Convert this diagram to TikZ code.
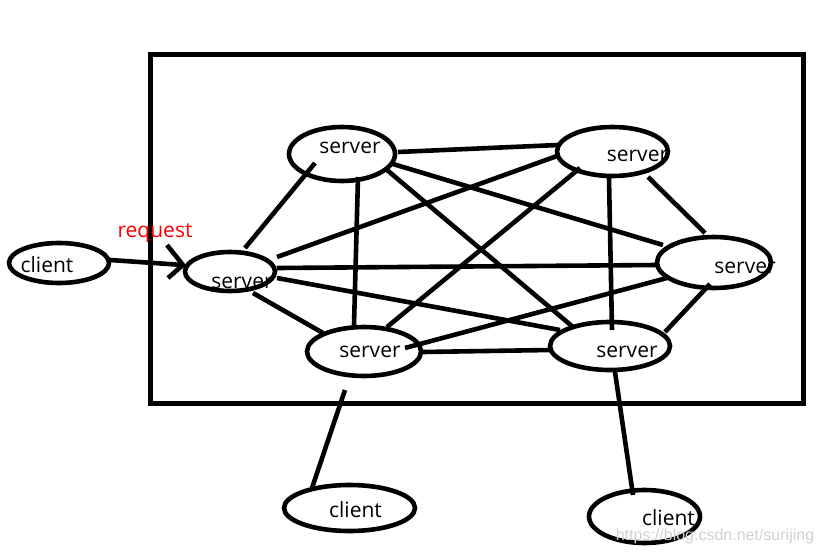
\documentclass[tikz,border=0pt]{standalone}
\usepackage{fontspec}
\setmainfont{Open Sans}
\newfontfamily\wmfont{Liberation Sans}
\usetikzlibrary{shapes.geometric}
\begin{document}
\begin{tikzpicture}[x=1pt,y=-1pt,
  oval/.style n args={2}{draw,ellipse,line width=4.6pt,inner sep=0pt,outer sep=0pt,minimum width=#1,minimum height=#2},
  edge/.style={line width=4.6pt},
  lbl/.style={anchor=base,inner sep=0pt,font=\fontsize{21}{24}\selectfont},
  req/.style={lbl,text=red},
  wm/.style={anchor=base,inner sep=0pt,text=black!18,font=\wmfont\fontsize{16}{19}\selectfont}]
\useasboundingbox[fill=white] (0,0) rectangle (822,554);
% frame
\draw[line width=5pt] (150,54) rectangle (803,403);
% ellipses
\node[oval={100}{40}]  (c1) at (59,263) {};
\node[oval={90}{39}]   (s1) at (230,271.5) {};
\node[oval={106}{54}]  (s2) at (342,154) {};
\node[oval={111}{49}]  (s3) at (612.5,151.5) {};
\node[oval={114}{51}]  (s4) at (714,262.5) {};
\node[oval={114}{49}]  (s5) at (364,351.5) {};
\node[oval={120}{48}]  (s6) at (610,346) {};
\node[oval={131}{46}]  (c2) at (349.5,508) {};
\node[oval={111}{53}]  (c3) at (644.5,516.5) {};
% request arrow
\coordinate (tip) at ([shift={(-47,-6.5)}]s1.center);
\draw[edge] ([shift={(51,-3)}]c1.center) -- (tip) -- ++(-16,-20) (tip) -- ++(-15,13);
% server mesh
\draw[edge] ([shift={(15,-23.5)}]s1.center) -- ([shift={(-27,9)}]s2.center);
\draw[edge] ([shift={(47,-14.5)}]s1.center) -- ([shift={(-55.5,4.5)}]s3.center);
\draw[edge] ([shift={(47,-3.5)}]s1.center) -- ([shift={(-57,2.5)}]s4.center);
\draw[edge] ([shift={(23,21.5)}]s1.center) -- ([shift={(-41,-18.5)}]s5.center);
\draw[edge] ([shift={(47,6.5)}]s1.center) -- ([shift={(-50,-16)}]s6.center);
\draw[edge] ([shift={(56,-2)}]s2.center) -- ([shift={(-54.5,-6.5)}]s3.center);
\draw[edge] ([shift={(51,10)}]s2.center) -- ([shift={(-51,-17.5)}]s4.center);
\draw[edge] ([shift={(16,23)}]s2.center) -- ([shift={(-10,-26.5)}]s5.center);
\draw[edge] ([shift={(45,16)}]s2.center) -- ([shift={(-37,-19)}]s6.center);
\draw[edge] ([shift={(35.5,25.5)}]s3.center) -- ([shift={(-9,-29.5)}]s4.center);
\draw[edge] ([shift={(-32.5,16.5)}]s3.center) -- ([shift={(23,-24.5)}]s5.center);
\draw[edge] ([shift={(-3.5,26.5)}]s3.center) -- ([shift={(2,-16)}]s6.center);
\draw[edge] ([shift={(-47,15.5)}]s4.center) -- ([shift={(41,-3.5)}]s5.center);
\draw[edge] ([shift={(-4,21.5)}]s4.center) -- ([shift={(55,-14)}]s6.center);
\draw[edge] ([shift={(59,0.5)}]s5.center) -- ([shift={(-60,4)}]s6.center);
% clients below
\draw[edge] ([shift={(-19,38.5)}]s5.center) -- ([shift={(-37.5,-20)}]c2.center);
\draw[edge] ([shift={(5,26)}]s6.center) -- ([shift={(-11.5,-21.5)}]c3.center);
% labels
\node[lbl] (tc1) at (47,272) {client};
\node[lbl] (ts1) at (242,288) {server};
\node[lbl] (ts2) at (350,153) {server};
\node[lbl] (ts3) at (637.5,161) {server};
\node[lbl] (ts4) at (745,273) {server};
\node[lbl] (ts5) at (370,357) {server};
\node[lbl] (ts6) at (627,357) {server};
\node[lbl] (tc2) at (355.5,517) {client};
\node[lbl] (tc3) at (668.5,525) {client};
\node[req] (treq) at (155,237) {request};
\node[wm] (twm) at (715,540) {https://blog.csdn.net/surijing};
\end{tikzpicture}
\end{document}
